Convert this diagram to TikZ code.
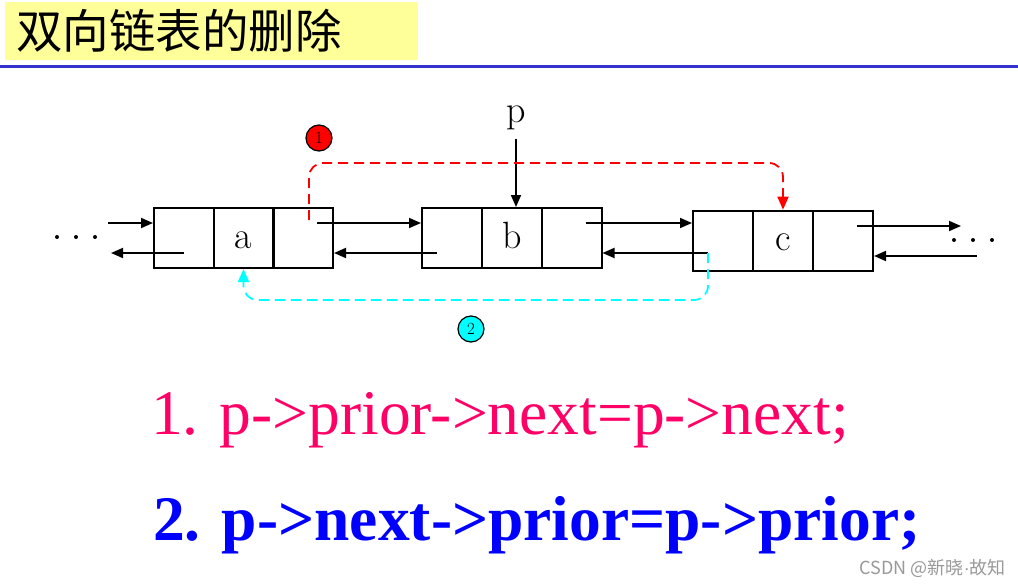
\documentclass[tikz,border=0pt]{standalone}
\usepackage{fontspec}
\newfontfamily\cjk{Noto Sans CJK SC}
\newfontfamily\tms{Liberation Serif}
\newfontfamily\lsans{Liberation Sans}
\usetikzlibrary{arrows.meta,calc}
\definecolor{titlebg}{HTML}{FFFF99}
\definecolor{rulecol}{HTML}{3333CC}
\definecolor{pinkred}{HTML}{FF0066}
\definecolor{wmcol}{HTML}{999999}
\definecolor{cyanc}{HTML}{00FFFF}
\begin{document}
\begin{tikzpicture}[x=1pt,y=-1pt,
  cell/.style={draw, line width=2pt, minimum width=60pt, minimum height=60pt, inner sep=0pt,
    text height=20pt, text depth=0pt, font=\fontsize{38}{38}\selectfont},
  link/.style={line width=1.8pt, -{Triangle[length=12pt,width=10pt]}},
  redlink/.style={line width=1.8pt, red, dash pattern=on 10pt off 6pt, rounded corners=14pt,
    -{Triangle[length=13pt,width=11pt]}},
  cyanlink/.style={line width=1.8pt, cyanc, dash pattern=on 10pt off 6pt, rounded corners=14pt,
    -{Triangle[length=13pt,width=11pt]}},
  badge/.style={circle, draw, line width=1.2pt, minimum size=26pt, inner sep=0pt,
    font=\fontsize{17}{17}\selectfont},
  dot/.style={circle, fill, inner sep=0pt, minimum size=4pt}
]
\useasboundingbox (0,0) rectangle (1018,586);
\fill[white] (0,0) rectangle (1018,586);

% title
\node[fill=titlebg, minimum width=413pt, minimum height=58pt, inner sep=0pt, anchor=north west] (titlebox) at (5,2) {};
\node[anchor=west, inner sep=0pt, font=\cjk\fontsize{46.5}{46.5}\selectfont] (title) at (16,31) {双向链表的删除};
\draw[rulecol, line width=3pt] (0,66.5) -- (1018,66.5);

% list nodes
\node[cell] (aL) at (184,238) {};
\node[cell] (aM) at (243.5,238) {a};
\node[cell] (aR) at (303,238) {};
\node[cell] (bL) at (452,238) {};
\node[cell] (bM) at (512,238) {b};
\node[cell] (bR) at (571.5,238) {};
\node[cell] (cL) at (723,240.7) {};
\node[cell] (cM) at (783,240.7) {c};
\node[cell] (cR) at (843,240.7) {};

% dots
\node[dot] (d1) at (57,237) {};
\node[dot] (d2) at (76,237) {};
\node[dot] (d3) at (95,237) {};
\node[dot] (e1) at (954,240) {};
\node[dot] (e2) at (973,240) {};
\node[dot] (e3) at (992,240) {};

% coordinates
\coordinate (la1) at (108,223);
\coordinate (la2) at (184,253);
\coordinate (la2e) at (111,253);
\coordinate (an) at (317,223);
\coordinate (bp) at (437,253);
\coordinate (bn) at (586,223);
\coordinate (cp) at (708,253);
\coordinate (cn) at (857,226);
\coordinate (cne) at (961,226);
\coordinate (ri) at (977,256);
\coordinate (rs) at (309,220);
\coordinate (rtop) at (0,163);
\coordinate (cbot) at (0,300);

% links
\draw[link] (la1) -- (la1 -| aL.west);
\draw[link] (la2) -- (la2e);
\draw[link] (an) -- (an -| bL.west);
\draw[link] (bp) -- (bp -| aR.east);
\draw[link] (bn) -- (bn -| cL.west);
\draw[link] (cp) -- (cp -| bR.east);
\draw[link] (cn) -- (cne);
\draw[link] (ri) -- (ri -| cR.east);

% p pointer
\node[anchor=base, inner sep=0pt, font=\fontsize{38}{38}\selectfont] (p) at (516,122) {p};
\draw[link, shorten <=9pt] (p) -- (p |- bM.north);

% deletion links
\draw[redlink] (rs) |- (cM.north |- rtop) -- (cM.north);
\draw[cyanlink] (cp) |- (aM.south |- cbot) -- (aM.south);

\node[badge, fill=red] (n1) at (319,138) {1};
\node[badge, fill=cyanc] (n2) at (471,329) {2};

% formulas
\node[anchor=base west, inner sep=0pt, text=pinkred, font=\tms\fontsize{63.5}{70}\selectfont] (f1) at (151,434) {1. p->prior->next=p->next;};
\node[anchor=base west, inner sep=0pt, text=blue, font=\tms\bfseries\fontsize{63.5}{70}\selectfont] (f2) at (153,540) {2. p->next->prior=p->prior;};

% watermark
\node[anchor=east, inner sep=0pt, text=wmcol, font=\cjk\fontsize{18}{18}\selectfont] (wm) at (1006,568) {CSDN @新晓{\lsans ·}故知};
\end{tikzpicture}
\end{document}
